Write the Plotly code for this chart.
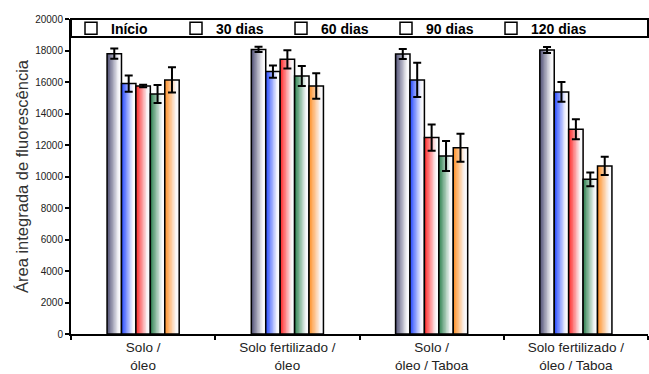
import plotly.graph_objects as go

categories = ["Solo /<br>óleo", "Solo fertilizado /<br>óleo",
              "Solo /<br>óleo / Taboa", "Solo fertilizado /<br>óleo / Taboa"]
series_names = ["Início", "30 dias", "60 dias", "90 dias", "120 dias"]

inicio = [17800, 18070, 17780, 18030]
dias30 = [15900, 16660, 16130, 15370]
dias60 = [15750, 17440, 12470, 13000]
dias90 = [15240, 16380, 11300, 9820]
dias120 = [16130, 15750, 11830, 10670]

err_inicio = [330, 170, 320, 190]
err_30 = [520, 390, 1090, 625]
err_60 = [80, 580, 830, 635]
err_90 = [570, 635, 950, 435]
err_120 = [800, 810, 890, 580]

y_ticks = [0, 2000, 4000, 6000, 8000, 10000, 12000, 14000, 16000, 18000, 20000]
y_tick_labels = ["0", "2000", "4000", "6000", "8000", "10000", "12000",
                 "14000", "16000", "18000", "20000"]

values = [inicio, dias30, dias60, dias90, dias120]
errors = [err_inicio, err_30, err_60, err_90, err_120]
dark = [(88, 88, 124), (48, 82, 255), (255, 50, 50), (56, 136, 88), (255, 150, 50)]

FONT = "Arial, Liberation Sans, sans-serif"
fig = go.Figure()

bar_w = 0.1
group_start = -0.25
N = 10
for i, (name, vals, errs, c) in enumerate(zip(series_names, values, errors, dark)):
    start = group_start + i * bar_w
    for k in range(N):
        t = k / (N - 1)
        f = min(1.0, t * 1.2)
        r = round(c[0] + (250 - c[0]) * f)
        g = round(c[1] + (250 - c[1]) * f)
        b = round(c[2] + (252 - c[2]) * f)
        fig.add_trace(go.Bar(
            x=categories, y=vals,
            offset=start + k * bar_w / N, width=bar_w - k * bar_w / N,
            marker=dict(color=f"rgb({r},{g},{b})", line=dict(width=0)),
            showlegend=False, hoverinfo="skip",
        ))
    fig.add_trace(go.Bar(
        x=categories, y=vals, name=name,
        offset=start, width=bar_w,
        marker=dict(color="rgba(255,255,255,0)", line=dict(color="black", width=1.5)),
        error_y=dict(type="data", array=errs, visible=True, color="black",
                     thickness=2, width=4),
    ))

fig.update_layout(
    width=649, height=374,
    margin=dict(l=71, r=1, t=19, b=40),
    barmode="overlay",
    plot_bgcolor="white", paper_bgcolor="white",
    font=dict(family=FONT, color="black"),
    showlegend=True,
    legend=dict(orientation="h", x=0, y=1.02, xanchor="left", yanchor="top",
                font=dict(family=FONT, size=14, color="black", weight="bold"),
                bgcolor="rgba(0,0,0,0)", borderwidth=0,
                entrywidth=60, entrywidthmode="pixels", itemwidth=30,
                tracegroupgap=0),
    shapes=[dict(type="rect", xref="paper", yref="paper", x0=0, x1=1,
                 y0=(334 - 37) / 315, y1=1, line=dict(color="black", width=2),
                 fillcolor="rgba(0,0,0,0)")],
    xaxis=dict(type="category", range=[-0.5, 3.5], showline=True, linecolor="black",
               linewidth=2, ticks="outside", ticklen=4, tickwidth=1.5, tickcolor="black",
               tickson="boundaries", showgrid=False, automargin=False,
               ticklabelstandoff=0,
               tickfont=dict(family=FONT, size=13.5, color="#222")),
    yaxis=dict(range=[0, 20000], tickvals=y_ticks, ticktext=y_tick_labels,
               showline=True, linecolor="black", automargin=False,
               linewidth=2, ticks="outside", ticklen=4, tickwidth=1.5, tickcolor="black",
               showgrid=False, zeroline=False,
               tickfont=dict(family=FONT, size=10, color="#222"),
               title=dict(text="Área integrada de fluorescência",
                          font=dict(family=FONT, size=16.5, color="#333"), standoff=2)),
)

fig.write_html(
    "out.html",
    config={"displayModeBar": False},
    post_script="document.body.style.margin='0';"
                "document.documentElement.style.overflow='hidden';"
                "document.body.style.overflow='hidden';",
)
